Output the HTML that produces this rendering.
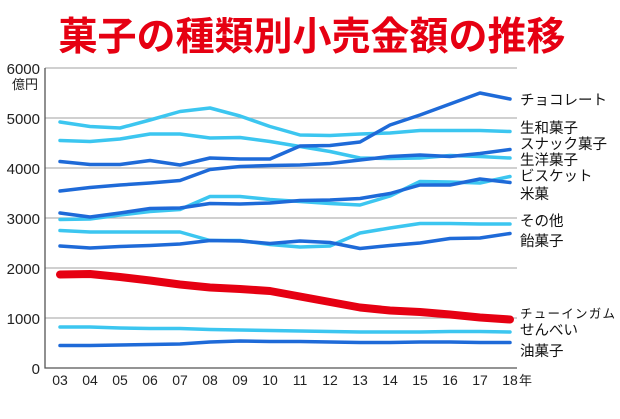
<!DOCTYPE html>
<html><head><meta charset="utf-8"><style>
body{margin:0;background:#fff;width:620px;height:414px;overflow:hidden}
text{font-family:"Liberation Sans","Noto Sans CJK JP",sans-serif}
</style></head><body>
<svg id="c" width="620" height="414" xmlns="http://www.w3.org/2000/svg">
<text x="312" y="50" text-anchor="middle" font-size="39" font-weight="bold" fill="#e60012" style="font-family:'Noto Sans CJK JP',sans-serif">菓子の種類別小売金額の推移</text>
</svg>
<script>
const years=["03","04","05","06","07","08","09","10","11","12","13","14","15","16","17","18"];
const yTicks=[0,1000,2000,3000,4000,5000,6000];
const choco=[4130,4070,4070,4150,4060,4200,4180,4180,4440,4450,4520,4860,5060,5280,5500,5380];
const namagashi=[4920,4830,4800,4960,5130,5200,5040,4830,4660,4650,4680,4700,4750,4750,4750,4730];
const snack=[3540,3610,3660,3700,3750,3970,4030,4050,4060,4090,4160,4230,4260,4230,4290,4370];
const namayou=[4550,4530,4580,4680,4680,4600,4610,4530,4430,4330,4200,4190,4200,4250,4230,4200];
const biscuit=[2970,2980,3060,3130,3170,3430,3430,3370,3330,3290,3260,3440,3730,3720,3700,3830];
const beika=[3100,3020,3100,3190,3200,3290,3280,3300,3350,3360,3390,3490,3660,3660,3780,3710];
const sonota=[2750,2720,2720,2720,2720,2550,2550,2470,2420,2440,2700,2800,2890,2890,2880,2880];
const ame=[2440,2400,2430,2450,2480,2550,2540,2490,2540,2510,2390,2450,2500,2590,2600,2690];
const gum=[1870,1880,1820,1750,1670,1610,1580,1540,1430,1320,1210,1150,1120,1070,1010,970];
const senbei=[820,820,800,790,790,770,760,750,740,730,720,720,720,730,730,720];
const abura=[450,450,460,470,480,520,540,530,530,520,510,510,520,520,510,510];
const DARK="#1e6ad8",LIGHT="#3cc6f0";
const svg=document.getElementById('c');const NS="http://www.w3.org/2000/svg";
const X=i=>60+i*30, Y=v=>368-v*0.05;
function el(t,a){const e=document.createElementNS(NS,t);for(const k in a)e.setAttribute(k,a[k]);svg.appendChild(e);return e;}
yTicks.forEach(v=>{
 if(v>0){const g=el('line',{x1:45,x2:517,y1:Y(v),y2:Y(v),stroke:'#b4b4b4','stroke-width':1.3});
 
 }
 const t=el('text',{x:40,y:Y(v)+6,'text-anchor':'end','font-size':15,fill:'#222'});t.textContent=v;
 
 
});
const u=el('text',{x:38,y:89,'text-anchor':'end','font-size':13,fill:'#222'});u.textContent='億円';


const ax=el('polyline',{points:'45,68 45,368 517,368',fill:'none',stroke:'#555','stroke-width':1.3});


years.forEach((y,i)=>{const t=el('text',{x:X(i),y:385,'text-anchor':'middle','font-size':14,fill:'#222'});t.textContent=y;
 
 });
const yr=el('text',{x:519,y:385,'font-size':13,fill:'#222'});yr.textContent='年';


const series=[
 [namagashi,LIGHT,3.5,'生和菓子',133],[namayou,LIGHT,3.5,'生洋菓子',165],[biscuit,LIGHT,3.5,'ビスケット',181],
 [sonota,LIGHT,3.5,'その他',226],[senbei,LIGHT,3.5,'せんべい',335],
 [choco,DARK,3.5,'チョコレート',105],[snack,DARK,3.5,'スナック菓子',149],[beika,DARK,3.5,'米菓',199],
 [ame,DARK,3.5,'飴菓子',246],[abura,DARK,3.5,'油菓子',356],[gum,'#e60012',8,'チューインガム',318]];
series.forEach(([d,c,w,n,ly])=>{
 const p=el('polyline',{points:d.map((v,i)=>X(i)+','+Y(v)).join(' '),fill:'none',stroke:c,'stroke-width':w,'stroke-linejoin':'round','stroke-linecap':'round'});
 
 
 const t=el('text',{x:520,y:ly,'font-size':n==='チューインガム'?12.5:14.5,fill:'#111'});t.textContent=n;
 if(n==='チューインガム')t.setAttribute('textLength','95');
 
 
});
</script>
</body></html>
